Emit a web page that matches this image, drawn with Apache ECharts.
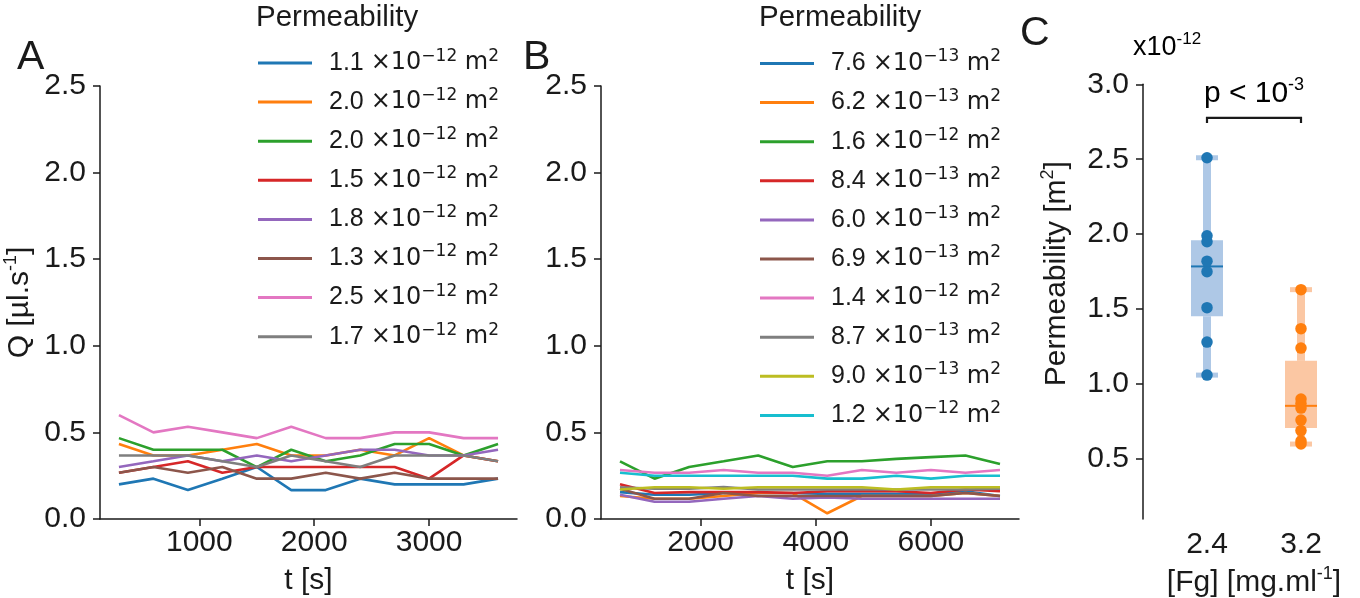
<!DOCTYPE html>
<html>
<head>
<meta charset="utf-8">
<script src="https://cdn.jsdelivr.net/npm/echarts@6/dist/echarts.min.js"></script>
<style>
  html, body { margin: 0; padding: 0; background: #fff; }
  #chart { width: 1360px; height: 598px; }
</style>
</head>
<body>
<div id="chart"></div>
<script>
var INK = "#1a1a1a";
var FONT = '"Liberation Sans", Arial, Helvetica, sans-serif';
var MATH = '"DejaVu Sans", sans-serif';
var COLORS = ["#1f77b4", "#ff7f0e", "#2ca02c", "#d62728", "#9467bd",
  "#8c564b", "#e377c2", "#7f7f7f", "#bcbd22", "#17becf"];

// panel A : flow rate vs time, one line per sample
var timeA = [300, 600, 900, 1200, 1500, 1800, 2100, 2400, 2700, 3000, 3300, 3600];
var flowA = [
  [0.2, 0.233, 0.167, 0.233, 0.3, 0.167, 0.167, 0.233, 0.2, 0.2, 0.2, 0.233],
  [0.433, 0.367, 0.367, 0.4, 0.433, 0.367, 0.367, 0.4, 0.367, 0.467, 0.367, 0.333],
  [0.467, 0.4, 0.4, 0.4, 0.3, 0.4, 0.333, 0.367, 0.433, 0.433, 0.367, 0.433],
  [0.267, 0.3, 0.333, 0.267, 0.3, 0.3, 0.3, 0.3, 0.3, 0.233, 0.367, 0.333],
  [0.3, 0.333, 0.367, 0.333, 0.367, 0.333, 0.367, 0.4, 0.4, 0.367, 0.367, 0.4],
  [0.267, 0.3, 0.267, 0.3, 0.233, 0.233, 0.267, 0.233, 0.267, 0.233, 0.233, 0.233],
  [0.6, 0.5, 0.533, 0.5, 0.467, 0.533, 0.467, 0.467, 0.5, 0.5, 0.467, 0.467],
  [0.367, 0.367, 0.367, 0.333, 0.3, 0.367, 0.333, 0.3, 0.367, 0.367, 0.367, 0.333]
];
var permA = ["1.1", "2.0", "2.0", "1.5", "1.8", "1.3", "2.5", "1.7"];
var expA = ["12", "12", "12", "12", "12", "12", "12", "12"];

// panel B
var timeB = [600, 1200, 1800, 2400, 3000, 3600, 4200, 4800, 5400, 6000, 6600, 7200];
var flowB = [
  [0.155, 0.14, 0.14, 0.15, 0.15, 0.15, 0.145, 0.145, 0.145, 0.145, 0.16, 0.133],
  [0.133, 0.117, 0.117, 0.133, 0.15, 0.15, 0.033, 0.133, 0.133, 0.133, 0.15, 0.133],
  [0.333, 0.233, 0.3, 0.333, 0.367, 0.3, 0.333, 0.333, 0.347, 0.357, 0.367, 0.317],
  [0.2, 0.15, 0.155, 0.155, 0.155, 0.15, 0.16, 0.16, 0.16, 0.15, 0.17, 0.16],
  [0.14, 0.1, 0.1, 0.117, 0.133, 0.117, 0.125, 0.117, 0.117, 0.117, 0.117, 0.117],
  [0.175, 0.117, 0.117, 0.15, 0.133, 0.133, 0.133, 0.133, 0.133, 0.133, 0.15, 0.133],
  [0.283, 0.267, 0.267, 0.283, 0.267, 0.267, 0.25, 0.283, 0.267, 0.283, 0.267, 0.283],
  [0.183, 0.175, 0.175, 0.185, 0.17, 0.17, 0.17, 0.17, 0.17, 0.17, 0.17, 0.175],
  [0.17, 0.183, 0.183, 0.175, 0.183, 0.183, 0.183, 0.183, 0.17, 0.183, 0.183, 0.183],
  [0.267, 0.25, 0.25, 0.25, 0.25, 0.25, 0.233, 0.233, 0.25, 0.233, 0.25, 0.25]
];
var permB = ["7.6", "6.2", "1.6", "8.4", "6.0", "6.9", "1.4", "8.7", "9.0", "1.2"];
var expB = ["13", "13", "12", "13", "13", "13", "12", "13", "13", "12"];

// panel C : permeability (x1e-12 m2) per fibrinogen concentration
var fgLabels = ["2.4", "3.2"];
var perm24 = [2.51, 1.99, 1.95, 1.82, 1.75, 1.51, 1.28, 1.06];
var perm32 = [1.63, 1.37, 1.24, 0.90, 0.87, 0.84, 0.76, 0.69, 0.62, 0.60];
var ticksC = [0.5, 1.0, 1.5, 2.0, 2.5, 3.0];
var bracketY = 2.776;

var LIGHT = ["#aec8e6", "#fbc7a3"];

function quantile(arr, p) {
  var s = arr.slice().sort(function (a, b) { return a - b; });
  var pos = (s.length - 1) * p, lo = Math.floor(pos), hi = Math.ceil(pos);
  return s[lo] + (s[hi] - s[lo]) * (pos - lo);
}
function boxStats(arr, idx) {
  var q1 = quantile(arr, 0.25), q3 = quantile(arr, 0.75), iqr = q3 - q1;
  var inside = arr.filter(function (v) { return v >= q1 - 1.5 * iqr && v <= q3 + 1.5 * iqr; });
  return [idx, Math.min.apply(null, inside), q1, quantile(arr, 0.5), q3, Math.max.apply(null, inside)];
}

var richBase = {
  n: { fontFamily: FONT, fontSize: 30, lineHeight: 36, color: INK },
  s: { fontFamily: FONT, fontSize: 18, lineHeight: 18, color: INK, verticalAlign: "top" }
};
var legendRich = {
  g: { width: 12 },
  n: { fontFamily: FONT, fontSize: 25, lineHeight: 30, color: INK },
  d: { fontFamily: MATH, fontSize: 24, lineHeight: 30, color: INK },
  s: { fontFamily: MATH, fontSize: 17, lineHeight: 17, color: INK, verticalAlign: "top" }
};

function legendText(val, ex) {
  return "{g|}{n|" + val + " }{d|\u00d710}{s|\u2212" + ex + "}{d| m}{s|2}";
}

var series = [];
var namesA = [], namesB = [];
flowA.forEach(function (row, i) {
  var name = "A" + i;
  namesA.push({ name: name, icon: "rect" });
  series.push({
    name: name, type: "line", xAxisIndex: 0, yAxisIndex: 0, symbol: "none",
    data: row.map(function (v, k) { return [timeA[k], v]; }),
    lineStyle: { width: 2.6, color: COLORS[i] }, itemStyle: { color: COLORS[i] }
  });
});
flowB.forEach(function (row, i) {
  var name = "B" + i;
  namesB.push({ name: name, icon: "rect" });
  series.push({
    name: name, type: "line", xAxisIndex: 1, yAxisIndex: 1, symbol: "none",
    data: row.map(function (v, k) { return [timeB[k], v]; }),
    lineStyle: { width: 2.6, color: COLORS[i] }, itemStyle: { color: COLORS[i] }
  });
});

series.push({
  type: "custom", xAxisIndex: 2, yAxisIndex: 2, z: 2,
  encode: { x: 0, y: [1, 2, 3, 4, 5] },
  data: [boxStats(perm24, 0), boxStats(perm32, 1)],
  renderItem: function (params, api) {
    var i = api.value(0);
    var x = api.coord([i, 0])[0];
    var yMin = api.coord([i, api.value(1)])[1];
    var yQ1 = api.coord([i, api.value(2)])[1];
    var yMed = api.coord([i, api.value(3)])[1];
    var yQ3 = api.coord([i, api.value(4)])[1];
    var yMax = api.coord([i, api.value(5)])[1];
    var light = LIGHT[i], dark = COLORS[i];
    return {
      type: "group", children: [
        { type: "rect", shape: { x: x - 4, y: yMax, width: 8, height: yQ3 - yMax }, style: { fill: light } },
        { type: "rect", shape: { x: x - 4, y: yQ1, width: 8, height: yMin - yQ1 }, style: { fill: light } },
        { type: "rect", shape: { x: x - 11, y: yMax - 2.5, width: 22, height: 5 }, style: { fill: light } },
        { type: "rect", shape: { x: x - 11, y: yMin - 2.5, width: 22, height: 5 }, style: { fill: light } },
        { type: "rect", shape: { x: x - 16, y: yQ3, width: 32, height: yQ1 - yQ3 }, style: { fill: light } },
        { type: "line", shape: { x1: x - 16, y1: yMed, x2: x + 16, y2: yMed }, style: { stroke: dark, lineWidth: 2 } }
      ]
    };
  }
});
series.push({
  type: "scatter", xAxisIndex: 2, yAxisIndex: 2, z: 3, symbolSize: 11.5,
  data: perm24.map(function (v) { return [0, v]; }), itemStyle: { color: COLORS[0], opacity: 1 }
});
series.push({
  type: "scatter", xAxisIndex: 2, yAxisIndex: 2, z: 3, symbolSize: 11.5,
  data: perm32.map(function (v) { return [1, v]; }), itemStyle: { color: COLORS[1], opacity: 1 }
});
series.push({
  type: "custom", xAxisIndex: 2, yAxisIndex: 2, z: 4,
  encode: { x: 0, y: 1 },
  data: [[0, bracketY, 1]],
  renderItem: function (params, api) {
    var p0 = api.coord([api.value(0), api.value(1)]);
    var p1 = api.coord([api.value(2), api.value(1)]);
    return {
      type: "group", children: [
        { type: "polyline", shape: { points: [[p0[0], p0[1] + 5], [p0[0], p0[1]], [p1[0], p1[1]], [p1[0], p1[1] + 5]] },
          style: { stroke: INK, lineWidth: 2.2, fill: null } },
        { type: "text", style: { text: "{n|p < 10}{s|-3}", rich: richBase, x: (p0[0] + p1[0]) / 2, y: p0[1] - 6,
          align: "center", verticalAlign: "bottom" } }
      ]
    };
  }
});

function axisCommon() {
  return {
    nameMoveOverlap: false,
    axisLine: { show: true, lineStyle: { color: INK, width: 1.5 } },
    axisTick: { show: true, length: 7, lineStyle: { color: INK, width: 1.5 } },
    axisLabel: { color: INK, fontFamily: FONT, fontSize: 30 },
    splitLine: { show: false }
  };
}
function timeAxis(gi, min, max, ticks) {
  var a = axisCommon();
  a.type = "value"; a.gridIndex = gi; a.min = min; a.max = max;
  a.axisLabel.customValues = ticks; a.axisLabel.margin = 9;
  a.axisLabel.formatter = function (v) { return String(v); };
  a.axisTick.customValues = ticks;
  a.name = "t [s]"; a.nameLocation = "middle"; a.nameGap = 47;
  a.nameTextStyle = { color: INK, fontFamily: FONT, fontSize: 30 };
  return a;
}
function flowAxis(gi, withName) {
  var a = axisCommon();
  a.type = "value"; a.gridIndex = gi; a.min = 0; a.max = 2.5; a.interval = 0.5;
  a.axisLabel.margin = 14;
  a.axisLabel.formatter = function (v) { return v.toFixed(1); };
  if (withName) {
    a.name = "{n|Q [\u00b5l.s}{s|-1}{n|]}"; a.nameLocation = "middle"; a.nameGap = 62; a.nameRotate = 90;
    a.nameTextStyle = { rich: richBase };
  }
  return a;
}

var yC = axisCommon();
yC.type = "value"; yC.gridIndex = 2; yC.min = 0.1; yC.max = 3.0; yC.offset = 17;
yC.axisLabel.customValues = ticksC; yC.axisLabel.margin = 14;
yC.axisLabel.formatter = function (v) { return v.toFixed(1); };
yC.axisTick.customValues = ticksC;
yC.name = "{n|Permeability [m}{s|2}{n|]}"; yC.nameLocation = "middle"; yC.nameGap = 68; yC.nameRotate = 90;
yC.nameTextStyle = { rich: richBase, padding: [0, 0, 0, 56] };

var option = {
  animation: false,
  backgroundColor: "#fff",
  grid: [
    { left: 100, top: 86, width: 417, height: 433, outerBoundsMode: "none" },
    { left: 601, top: 86, width: 418, height: 433, outerBoundsMode: "none" },
    { left: 1160, top: 84.3, width: 188, height: 434.7, outerBoundsMode: "none" }
  ],
  xAxis: [
    timeAxis(0, 135, 3765, [1000, 2000, 3000]),
    timeAxis(1, 270, 7530, [2000, 4000, 6000]),
    {
      type: "category", gridIndex: 2, data: fgLabels,
      axisLine: { show: false }, axisTick: { show: false },
      axisLabel: { color: INK, fontFamily: FONT, fontSize: 30, margin: 11 },
      name: "{n|[Fg] [mg.ml}{s|-1}{n|]}", nameLocation: "middle", nameGap: 45,
      nameTextStyle: { rich: richBase }
    }
  ],
  yAxis: [flowAxis(0, true), flowAxis(1, false), yC],
  legend: [
    { data: namesA, orient: "vertical", left: 258, top: 48, padding: 0, itemWidth: 54, itemHeight: 3,
      itemGap: 11.6, selectedMode: false, textStyle: { rich: legendRich },
      formatter: function (n) { var i = +n.slice(1); return legendText(permA[i], expA[i]); } },
    { data: namesB, orient: "vertical", left: 760, top: 48.5, padding: 0, itemWidth: 54, itemHeight: 3,
      itemGap: 11.6, selectedMode: false, textStyle: { rich: legendRich },
      formatter: function (n) { var i = +n.slice(1); return legendText(permB[i], expB[i]); } }
  ],
  graphic: [
    { type: "text", left: 17, top: 37, style: { text: "A", font: "41px " + FONT, fill: INK } },
    { type: "text", left: 523, top: 37, style: { text: "B", font: "41px " + FONT, fill: INK } },
    { type: "text", left: 1020, top: 13, style: { text: "C", font: "41px " + FONT, fill: INK } },
    { type: "text", left: 256, top: 3, style: { text: "Permeability", font: "29.5px " + FONT, fill: INK } },
    { type: "text", left: 759, top: 3, style: { text: "Permeability", font: "29.5px " + FONT, fill: INK } },
    { type: "text", left: 1133, top: 31, style: { text: "{n|x10}{s|-12}", rich: {
      n: { fontFamily: FONT, fontSize: 27, lineHeight: 34, color: INK },
      s: { fontFamily: FONT, fontSize: 17, lineHeight: 17, color: INK, verticalAlign: "top" } } } }
  ],
  series: series
};

var chart = echarts.init(document.getElementById("chart"));
chart.setOption(option);
</script>
</body>
</html>
